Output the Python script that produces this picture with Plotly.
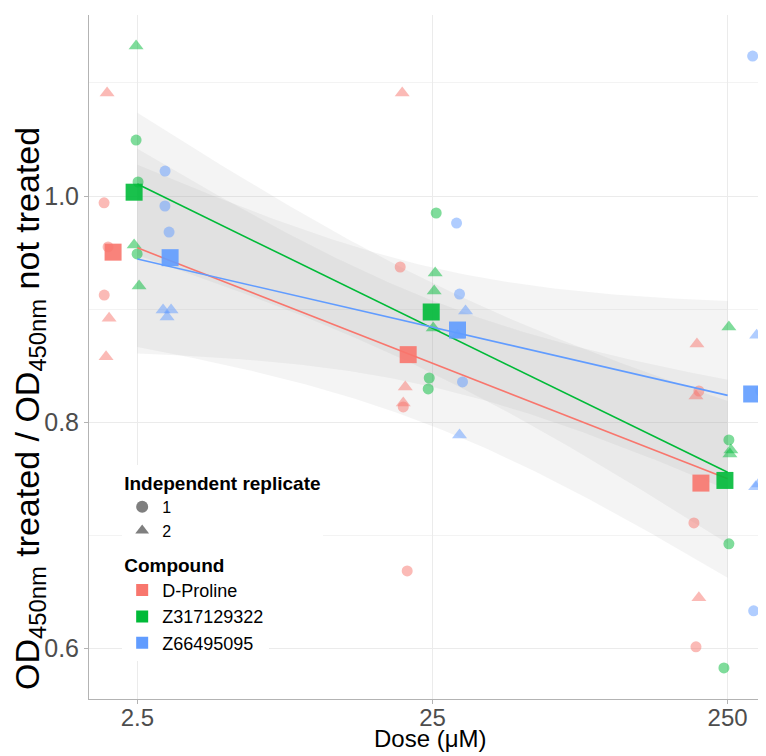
import numpy as np
import plotly.graph_objects as go

# ---------------- data ----------------
compounds = ["D-Proline", "Z317129322", "Z66495095"]
compound_colors = ["#F8766D", "#00BA38", "#619CFF"]
dose_ticks = [2.5, 25, 250]
dose_tick_labels = ["2.5", "25", "250"]
ratio_ticks = [0.6, 0.8, 1.0]
ratio_tick_labels = ["0.6", "0.8", "1.0"]
replicate_labels = ["1", "2"]

# nominal dose of each observation (same layout for every compound)
nominal_dose = [2.5] * 6 + [25] * 6 + [250] * 6

# D-Proline
proline_dose_jitter = [1.974, 1.928, 1.989, 1.930, 2.005, 1.958,
                       19.74, 19.43, 20.21, 19.90, 19.90, 20.52,
                       196.8, 199.8, 195.3, 192.2, 199.8, 195.3]
proline_ratio = [1.091, 0.994, 0.955, 0.9125, 0.892, 0.858,
                 1.091, 0.9373, 0.8313, 0.8171, 0.8136, 0.6687,
                 0.8693, 0.8277, 0.8233, 0.7111, 0.6449, 0.6016]
proline_replicate = [2, 1, 1, 1, 2, 2,
                     2, 1, 2, 2, 1, 1,
                     2, 1, 2, 1, 2, 1]
proline_mean_dose_jitter = [2.068, 20.68, 203.0]

# Z317129322
z317_dose_jitter = [2.475, 2.475, 2.513, 2.437, 2.495, 2.533,
                    25.73, 25.53, 25.33, 25.14, 24.37, 24.18,
                    252.5, 252.5, 256.5, 254.5, 252.5, 242.9]
z317_ratio = [1.1325, 1.0495, 1.0124, 0.9567, 0.9488, 0.9205,
              0.985, 0.932, 0.916, 0.8834, 0.8392, 0.8295,
              0.8843, 0.7845, 0.7756, 0.772, 0.6926, 0.583]
z317_replicate = [2, 1, 1, 2, 1, 2,
                  1, 2, 2, 2, 1, 1,
                  2, 1, 2, 2, 1, 1]
z317_mean_dose_jitter = [2.437, 24.75, 244.8]

# Z66495095
z664_dose_jitter = [3.103, 3.100, 3.201, 3.055, 3.252, 3.152,
                    30.16, 30.87, 32.35, 30.39, 31.60, 30.87,
                    303.9, 313.5, 323.5, 318.5, 311.1, 306.3]
z664_ratio = [1.0221, 0.9912, 0.9682, 0.8993, 0.8993, 0.8931,
              0.9761, 0.9134, 0.8984, 0.877, 0.8357, 0.7889,
              1.1237, 0.877, 0.8277, 0.7456, 0.743, 0.6334]
z664_replicate = [1, 1, 1, 2, 2, 2,
                  1, 1, 2, 2, 1, 2,
                  1, 2, 1, 2, 2, 1]
z664_mean_dose_jitter = [3.227, 30.39, 301.6]

groups = [
    (proline_dose_jitter, proline_ratio, proline_replicate, proline_mean_dose_jitter),
    (z317_dose_jitter, z317_ratio, z317_replicate, z317_mean_dose_jitter),
    (z664_dose_jitter, z664_ratio, z664_replicate, z664_mean_dose_jitter),
]

T975_DF16 = 2.1199  # t quantile, 95% CI, n-2 = 16 df


def rgba(hex_color, a):
    h = hex_color.lstrip("#")
    return "rgba(%d,%d,%d,%s)" % (int(h[0:2], 16), int(h[2:4], 16), int(h[4:6], 16), a)


fig = go.Figure()

# ---- confidence bands (lm fit on log10 dose) ----
fits = []
for (xj, y, rep, mx) in groups:
    x = np.log10(np.array(nominal_dose, dtype=float))
    yy = np.array(y)
    n = len(x)
    slope, intercept = np.polyfit(x, yy, 1)
    resid = yy - (intercept + slope * x)
    s = np.sqrt(np.sum(resid ** 2) / (n - 2))
    xg = np.linspace(x.min(), x.max(), 120)
    fit = intercept + slope * xg
    se = s * np.sqrt(1.0 / n + (xg - x.mean()) ** 2 / np.sum((x - x.mean()) ** 2))
    lo = fit - T975_DF16 * se
    hi = fit + T975_DF16 * se
    fits.append((10 ** xg, fit))
    fig.add_trace(go.Scatter(
        x=np.concatenate([10 ** xg, (10 ** xg)[::-1]]),
        y=np.concatenate([hi, lo[::-1]]),
        fill="toself", fillcolor="rgba(153,153,153,0.11)",
        line=dict(width=0), mode="lines", hoverinfo="skip", showlegend=False))

# ---- individual points ----
for (xj, y, rep, mx), color in zip(groups, compound_colors):
    xj = np.array(xj); y = np.array(y); rep = np.array(rep)
    for r, sym, size in [(1, "circle", 11), (2, "triangle-up", 13)]:
        m = rep == r
        fig.add_trace(go.Scatter(
            x=xj[m], y=y[m], mode="markers",
            marker=dict(symbol=sym, size=size, color=rgba(color, 0.5), line=dict(width=0)),
            showlegend=False, hoverinfo="skip"))

# ---- regression lines ----
for (xg, fit), color in zip(fits, compound_colors):
    fig.add_trace(go.Scatter(x=xg, y=fit, mode="lines",
                             line=dict(color=color, width=1.6),
                             showlegend=False, hoverinfo="skip"))

# ---- means (squares) ----
for (xj, y, rep, mx), color in zip(groups, compound_colors):
    y = np.array(y)
    means = [y[0:6].mean(), y[6:12].mean(), y[12:18].mean()]
    fig.add_trace(go.Scatter(x=mx, y=means, mode="markers",
                             marker=dict(symbol="square", size=17, color=rgba(color, 0.9), line=dict(width=0)),
                             showlegend=False, hoverinfo="skip"))

# ---- legends ----
for r, sym, size in zip(replicate_labels, ["circle", "triangle-up"], [11, 14]):
    fig.add_trace(go.Scatter(x=[None], y=[None], mode="markers", name=r,
                             marker=dict(symbol=sym, size=size, color="#7f7f7f"),
                             legend="legend"))
for name, color in zip(compounds, compound_colors):
    fig.add_trace(go.Scatter(x=[None], y=[None], mode="markers", name=name,
                             marker=dict(symbol="square", size=17, color=color),
                             legend="legend2"))

FONT = "Liberation Sans, Arial, Helvetica, sans-serif"

# the page body adds an 8px offset, so the figure is 758x748 placed at (8, 8)
fig.update_layout(
    width=758, height=748,
    margin=dict(l=81, r=0, t=7, b=57),
    plot_bgcolor="white", paper_bgcolor="white",
    font=dict(family=FONT, color="black"),
    xaxis=dict(
        type="log", range=[0.234, 2.528], automargin=False,
        tickvals=dose_ticks, ticktext=dose_tick_labels,
        showgrid=True, gridcolor="#ebebeb", gridwidth=1, zeroline=False,
        showline=True, linecolor="#b3b3b3", linewidth=1,
        ticks="outside", ticklen=4, tickcolor="#b3b3b3",
        tickfont=dict(size=24, color="#4d4d4d"),
        ticklabelstandoff=-7,
    ),
    yaxis=dict(
        range=[0.5555, 1.160], automargin=False,
        tickvals=ratio_ticks, ticktext=ratio_tick_labels,
        showgrid=True, gridcolor="#ebebeb", gridwidth=1, zeroline=False,
        minor=dict(tickvals=[0.7, 0.9, 1.1], showgrid=True, gridcolor="#f3f3f3", gridwidth=1, ticks=""),
        showline=True, linecolor="#b3b3b3", linewidth=1,
        ticks="outside", ticklen=4, tickcolor="#b3b3b3",
        tickfont=dict(size=25, color="#4d4d4d"),
    ),
    annotations=[
        dict(text="Dose (μM)", xref="paper", yref="paper", x=0.5037, y=-0.0804,
             xanchor="center", yanchor="bottom", showarrow=False,
             font=dict(size=24, color="black")),
        dict(text="OD<sub>450nm</sub> treated / OD<sub>450nm</sub> not treated",
             xref="paper", yref="paper", x=-0.0871, y=0.424, textangle=-90,
             xanchor="center", yanchor="middle", showarrow=False,
             font=dict(size=34, color="black")),
    ],
    legend=dict(
        title=dict(text="<b>Independent replicate</b>", font=dict(size=19)),
        x=0.049, y=0.342, xanchor="left", yanchor="top",
        bgcolor="white", borderwidth=0, font=dict(size=16), itemsizing="constant",
        tracegroupgap=0,
    ),
    legend2=dict(
        title=dict(text="<b>Compound</b>", font=dict(size=19)),
        x=0.049, y=0.222, xanchor="left", yanchor="top",
        bgcolor="white", borderwidth=0, font=dict(size=18), itemsizing="constant",
    ),
)

fig.write_html("out.html")
